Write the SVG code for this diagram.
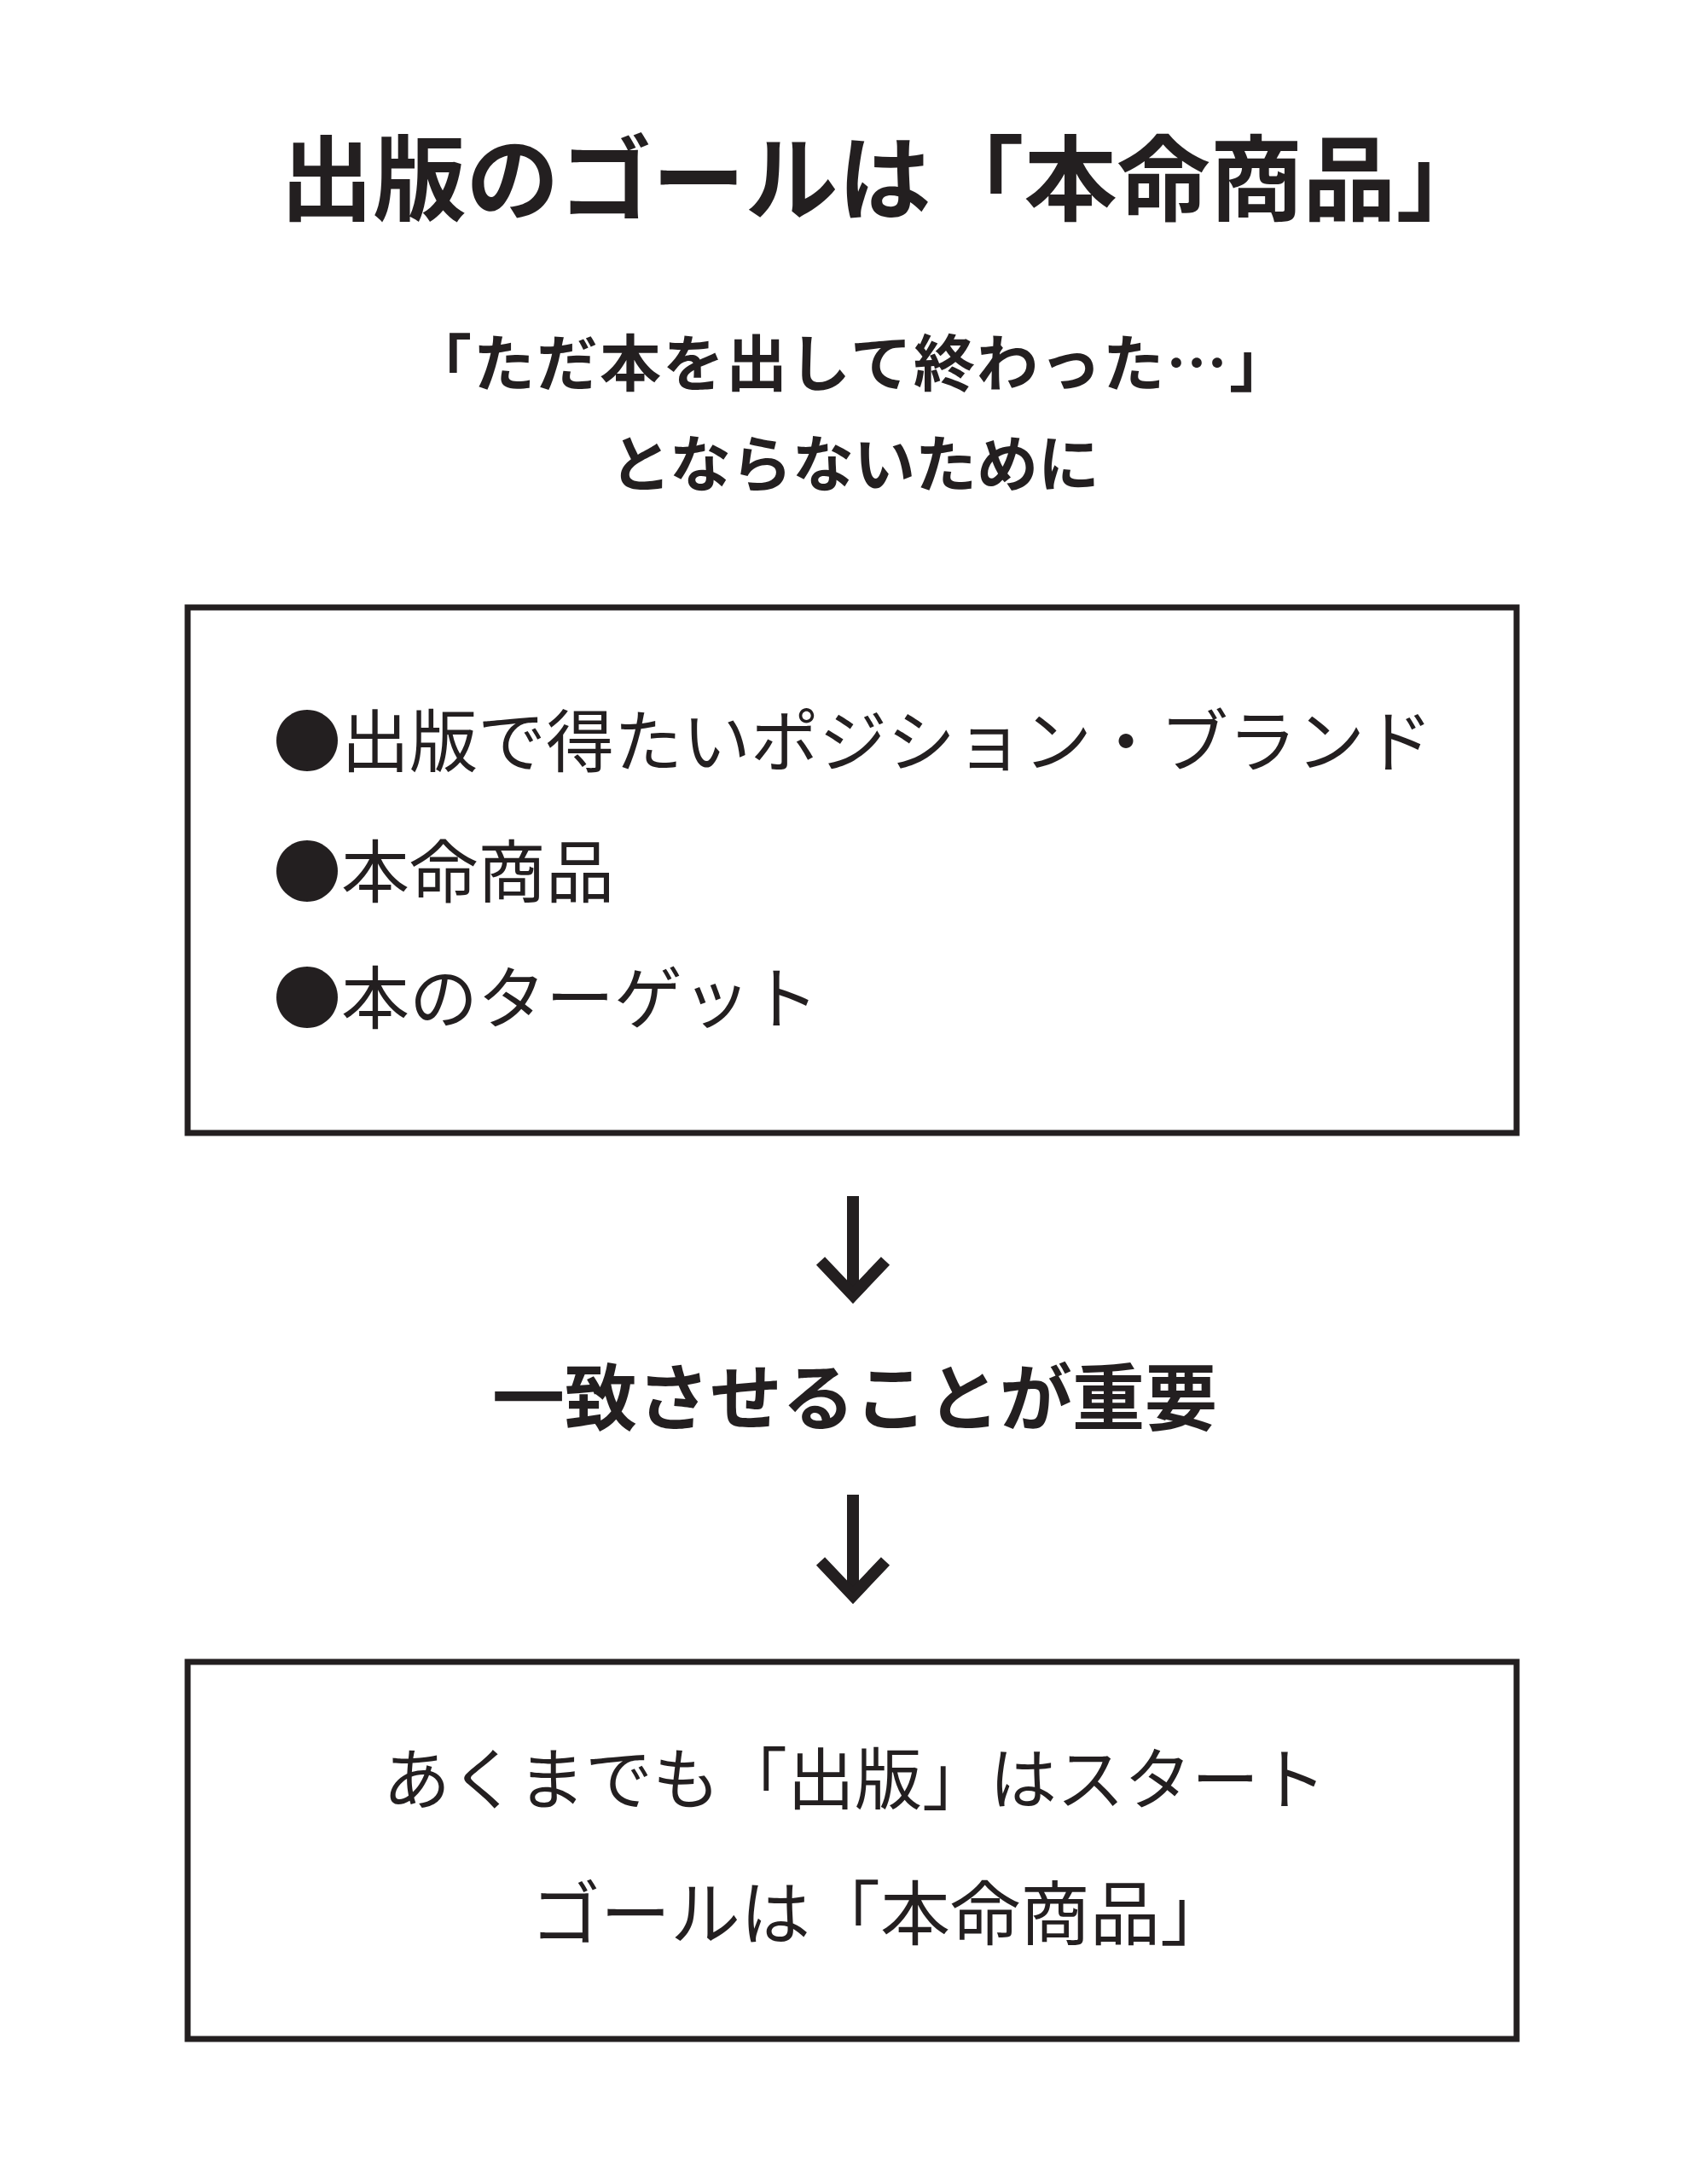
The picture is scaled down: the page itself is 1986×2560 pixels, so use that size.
<svg xmlns="http://www.w3.org/2000/svg" width="1986" height="2560" viewBox="0 0 1986 2560">
<style>
.t{font-family:"Noto Sans CJK JP","Noto Sans CJK SC",sans-serif;fill:#231f20;}
.b{font-weight:700;}
.r{font-weight:400;}
.box{fill:none;stroke:#231f20;stroke-width:7;}
.arr{fill:none;stroke:#231f20;stroke-width:14;stroke-linejoin:miter;}
</style>
<rect width="1986" height="2560" fill="#ffffff"/>
<g id="title">
<text class="t b" x="1037" y="250" font-size="109" text-anchor="middle">出版のゴールは「本命商品」</text>
</g>
<g id="subtitle">
<text class="t b" x="998" y="452" font-size="72" text-anchor="middle" letter-spacing="2">「ただ本を出して終わった…」</text>
<text class="t b" x="1002" y="570" font-size="72" text-anchor="middle">とならないために</text>
</g>
<g id="box1">
<rect class="box" x="220" y="712" width="1558" height="616"/>
<text class="t r" x="320" y="898" font-size="80">●出版で得たいポジション・ブランド</text>
<text class="t r" x="320" y="1051" font-size="80">●本命商品</text>
<text class="t r" x="320" y="1199" font-size="80">●本のターゲット</text>
</g>
<g id="middle">
<text class="t b" x="1002" y="1670" font-size="85" text-anchor="middle">一致させることが重要</text>
</g>
<g id="box2">
<rect class="box" x="220" y="1948" width="1558" height="442"/>
<text class="t r" x="1002" y="2115" font-size="79" text-anchor="middle">あくまでも「出版」はスタート</text>
<text class="t r" x="1032" y="2273" font-size="82" text-anchor="middle">ゴールは「本命商品」</text>
</g>
<g id="connectors">
<line class="arr" x1="1000" y1="1402" x2="1000" y2="1516"/>
<polyline class="arr" points="962,1478 1000,1518 1038,1478"/>
<line class="arr" x1="1000" y1="1752" x2="1000" y2="1868"/>
<polyline class="arr" points="962,1830 1000,1870 1038,1830"/>
</g>
</svg>
